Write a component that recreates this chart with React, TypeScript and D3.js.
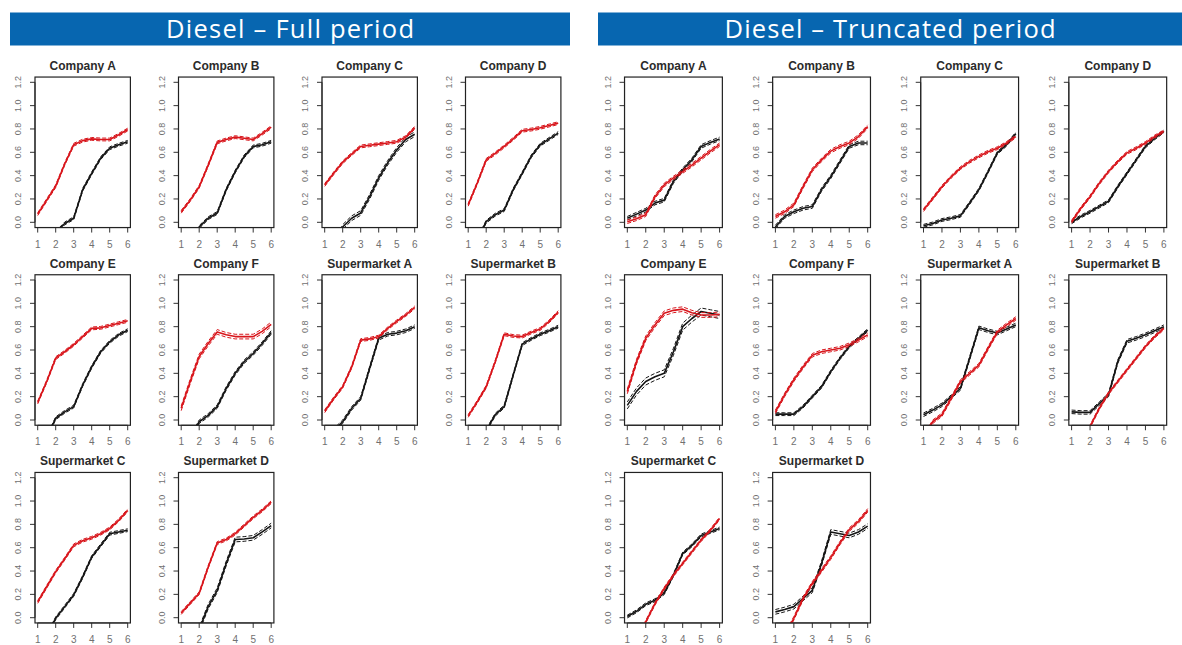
import { useEffect, useRef } from "react"
import * as d3 from "d3"

const xs = [1, 1.5, 2, 2.5, 3, 3.5, 4, 4.5, 5, 5.5, 6]
const yTicks = [0, 0.2, 0.4, 0.6, 0.8, 1.0, 1.2]
const xTicks = [1, 2, 3, 4, 5, 6]

const panelNames = [
    "Company A", "Company B", "Company C", "Company D",
    "Company E", "Company F", "Supermarket A", "Supermarket B",
    "Supermarket C", "Supermarket D",
]

const sideTitles = ["Diesel \u2013 Full period", "Diesel \u2013 Truncated period"]

const fullRed = [
    [0.07, 0.19, 0.31, 0.5, 0.665, 0.7, 0.715, 0.71, 0.71, 0.75, 0.795],
    [0.09, 0.19, 0.305, 0.49, 0.685, 0.71, 0.73, 0.72, 0.71, 0.76, 0.815],
    [0.32, 0.42, 0.515, 0.585, 0.65, 0.66, 0.67, 0.68, 0.69, 0.73, 0.81],
    [0.15, 0.335, 0.535, 0.59, 0.65, 0.715, 0.785, 0.795, 0.81, 0.83, 0.85],
    [0.15, 0.33, 0.53, 0.585, 0.645, 0.715, 0.785, 0.79, 0.81, 0.83, 0.85],
    [0.1, 0.33, 0.545, 0.655, 0.755, 0.73, 0.715, 0.715, 0.715, 0.76, 0.82],
    [0.075, 0.185, 0.285, 0.455, 0.685, 0.695, 0.715, 0.785, 0.845, 0.9, 0.965],
    [0.035, 0.155, 0.285, 0.5, 0.735, 0.72, 0.715, 0.75, 0.78, 0.845, 0.925],
    [0.135, 0.265, 0.395, 0.505, 0.62, 0.66, 0.685, 0.72, 0.765, 0.835, 0.92],
    [0.04, 0.125, 0.21, 0.435, 0.64, 0.67, 0.72, 0.79, 0.86, 0.92, 0.99],
]

const fullBlack = [
    [-0.3, -0.2, -0.09, -0.01, 0.035, 0.28, 0.42, 0.55, 0.635, 0.665, 0.69],
    [-0.3, -0.2, -0.04, 0.035, 0.08, 0.28, 0.435, 0.565, 0.65, 0.665, 0.69],
    [-0.3, -0.2, -0.04, 0.035, 0.08, 0.22, 0.38, 0.51, 0.62, 0.71, 0.755],
    [-0.3, -0.15, 0.005, 0.065, 0.105, 0.28, 0.42, 0.565, 0.665, 0.715, 0.765],
    [-0.3, -0.15, 0.015, 0.07, 0.115, 0.3, 0.455, 0.585, 0.67, 0.73, 0.77],
    [-0.3, -0.15, -0.015, 0.04, 0.115, 0.27, 0.4, 0.5, 0.57, 0.655, 0.75],
    [-0.3, -0.09, -0.015, 0.1, 0.185, 0.445, 0.7, 0.735, 0.745, 0.765, 0.8],
    [-0.35, -0.25, -0.09, 0.045, 0.115, 0.385, 0.65, 0.695, 0.735, 0.765, 0.8],
    [-0.3, -0.15, -0.005, 0.095, 0.195, 0.35, 0.52, 0.62, 0.72, 0.735, 0.75],
    [-0.4, -0.3, -0.1, 0.095, 0.235, 0.465, 0.67, 0.675, 0.685, 0.735, 0.79],
]

const truncRed = [
    [0.005, 0.03, 0.065, 0.22, 0.32, 0.38, 0.435, 0.49, 0.55, 0.61, 0.665],
    [0.05, 0.09, 0.15, 0.305, 0.45, 0.535, 0.61, 0.65, 0.68, 0.735, 0.82],
    [0.105, 0.205, 0.305, 0.39, 0.465, 0.52, 0.565, 0.605, 0.635, 0.68, 0.735],
    [0.005, 0.12, 0.22, 0.335, 0.435, 0.52, 0.595, 0.635, 0.68, 0.735, 0.78],
    [0.245, 0.5, 0.7, 0.815, 0.915, 0.94, 0.95, 0.92, 0.9, 0.9, 0.905],
    [0.07, 0.215, 0.345, 0.455, 0.555, 0.585, 0.6, 0.615, 0.645, 0.685, 0.73],
    [-0.15, -0.015, 0.045, 0.185, 0.33, 0.4, 0.47, 0.615, 0.755, 0.815, 0.87],
    [-0.4, -0.25, -0.055, 0.1, 0.23, 0.33, 0.43, 0.53, 0.63, 0.715, 0.785],
    [-0.4, -0.2, -0.035, 0.12, 0.25, 0.365, 0.465, 0.565, 0.665, 0.75, 0.85],
    [-0.3, -0.15, -0.005, 0.165, 0.295, 0.405, 0.515, 0.64, 0.755, 0.825, 0.92],
]

const truncBlack = [
    [0.035, 0.07, 0.105, 0.165, 0.19, 0.35, 0.45, 0.535, 0.65, 0.685, 0.715],
    [-0.04, 0.05, 0.09, 0.12, 0.135, 0.28, 0.39, 0.52, 0.65, 0.68, 0.68],
    [-0.03, -0.01, 0.02, 0.035, 0.055, 0.165, 0.28, 0.435, 0.595, 0.665, 0.76],
    [0.0, 0.05, 0.09, 0.135, 0.18, 0.305, 0.42, 0.535, 0.65, 0.72, 0.78],
    [0.125, 0.245, 0.33, 0.37, 0.4, 0.585, 0.8, 0.87, 0.93, 0.915, 0.9],
    [0.05, 0.05, 0.05, 0.115, 0.2, 0.285, 0.415, 0.53, 0.63, 0.7, 0.77],
    [0.045, 0.085, 0.13, 0.2, 0.27, 0.53, 0.79, 0.765, 0.745, 0.78, 0.815],
    [0.07, 0.065, 0.065, 0.14, 0.215, 0.5, 0.675, 0.7, 0.73, 0.765, 0.8],
    [0.01, 0.055, 0.115, 0.15, 0.21, 0.365, 0.55, 0.62, 0.705, 0.735, 0.765],
    [0.05, 0.07, 0.095, 0.165, 0.235, 0.465, 0.735, 0.72, 0.705, 0.735, 0.785],
]

// half-width of the dashed bands around each line
const fullRedSpread = [0.012, 0.012, 0.012, 0.012, 0.012, 0.02, 0.012, 0.012, 0.012, 0.012]
const fullBlackSpread = [0.012, 0.012, 0.02, 0.012, 0.012, 0.015, 0.015, 0.012, 0.012, 0.02]
const truncRedSpread = [0.015, 0.015, 0.012, 0.012, 0.02, 0.015, 0.015, 0.012, 0.012, 0.015]
const truncBlackSpread = [0.015, 0.015, 0.012, 0.012, 0.03, 0.012, 0.015, 0.015, 0.012, 0.02]

const sides = [
    { title: sideTitles[0], red: fullRed, black: fullBlack, redSpread: fullRedSpread, blackSpread: fullBlackSpread },
    { title: sideTitles[1], red: truncRed, black: truncBlack, redSpread: truncRedSpread, blackSpread: truncBlackSpread },
]

const W = 1182
const H = 645

// layout of each half
const layout = [
    { barX: 10, barW: 560, x1: 37.7, colStep: 143.5, xw: 90, titleW: 248 },
    { barX: 598, barW: 584, x1: 627.3, colStep: 148.1, xw: 92.3, titleW: 331 },
]
const row0 = 222.3
const rowStep = 197.7
const yH = 140

const RED = "#d8151b"
const BLACK = "#151515"
const TICK_GREY = "#707070"
const FONT = "'Liberation Sans', Arial, sans-serif"

export default function App() {
    const ref = useRef<SVGSVGElement | null>(null)

    useEffect(() => {
        const svg = d3.select(ref.current)
        svg.selectAll("*").remove()

        svg.append("rect").attr("width", W).attr("height", H).attr("fill", "#fff")

        const defs = svg.append("defs")

        sides.forEach((side, s) => {
            const L = layout[s]

            svg.append("rect")
                .attr("x", L.barX)
                .attr("y", 12.5)
                .attr("width", L.barW)
                .attr("height", 33)
                .attr("fill", "#0766b0")

            svg.append("text")
                .attr("x", L.barX + L.barW / 2)
                .attr("y", 38)
                .attr("text-anchor", "middle")
                .attr("fill", "#fff")
                .attr("font-family", "'Open Sans', 'Liberation Sans', sans-serif")
                .attr("font-size", 25.5)
                .attr("textLength", L.titleW)
                .attr("lengthAdjust", "spacing")
                .text(side.title)

            panelNames.forEach((name, i) => {
                const col = i % 4
                const row = Math.floor(i / 4)
                const xa = L.x1 + L.colStep * col
                const y0 = row0 + rowStep * row

                const x = d3.scaleLinear().domain([1, 6]).range([xa, xa + L.xw])
                const y = d3.scaleLinear().domain([0, 1.2]).range([y0, y0 - yH])

                const bx0 = x(0.85)
                const bx1 = x(6.15)
                const by0 = y(1.245)
                const by1 = y(-0.045)

                const g = svg.append("g")
                const clipId = `clip-${s}-${i}`
                defs.append("clipPath").attr("id", clipId)
                    .append("rect")
                    .attr("x", bx0).attr("y", by0)
                    .attr("width", bx1 - bx0).attr("height", by1 - by0)

                // y axis
                const yAxis = g.append("g")
                yAxis.append("line")
                    .attr("x1", bx0).attr("x2", bx0)
                    .attr("y1", y(0)).attr("y2", y(1.2))
                    .attr("stroke", "#333")
                yTicks.forEach(t => {
                    yAxis.append("line")
                        .attr("x1", bx0 - 5).attr("x2", bx0)
                        .attr("y1", y(t)).attr("y2", y(t))
                        .attr("stroke", "#333")
                    yAxis.append("text")
                        .attr("transform", `translate(${bx0 - 14},${y(t)}) rotate(-90)`)
                        .attr("text-anchor", "middle")
                        .attr("font-family", FONT)
                        .attr("font-size", 9)
                        .attr("fill", TICK_GREY)
                        .text(d3.format(".1f")(t))
                })

                // x axis
                const xAxis = g.append("g")
                xAxis.append("line")
                    .attr("x1", x(1)).attr("x2", x(6))
                    .attr("y1", by1).attr("y2", by1)
                    .attr("stroke", "#333")
                xTicks.forEach(t => {
                    xAxis.append("line")
                        .attr("x1", x(t)).attr("x2", x(t))
                        .attr("y1", by1).attr("y2", by1 + 5)
                        .attr("stroke", "#333")
                    xAxis.append("text")
                        .attr("x", x(t))
                        .attr("y", by1 + 20)
                        .attr("text-anchor", "middle")
                        .attr("font-family", FONT)
                        .attr("font-size", 10)
                        .attr("fill", TICK_GREY)
                        .text(t)
                })

                // series
                const plot = g.append("g").attr("clip-path", `url(#${clipId})`)
                const series = [
                    { vals: side.black[i], spread: side.blackSpread[i], color: BLACK },
                    { vals: side.red[i], spread: side.redSpread[i], color: RED },
                ]
                series.forEach(ser => {
                    const pts = xs.map((xv, k) => [xv, ser.vals[k]] as [number, number])
                    const line = d3.line<[number, number]>()
                        .x(d => x(d[0]))
                        .y(d => y(d[1]))
                    ;[-1, 1].forEach(sign => {
                        plot.append("path")
                            .attr("d", line(pts.map(([a, b]) => [a, b + sign * ser.spread] as [number, number])))
                            .attr("fill", "none")
                            .attr("stroke", ser.color)
                            .attr("stroke-width", 1)
                            .attr("stroke-dasharray", "4,2")
                    })
                    plot.append("path")
                        .attr("d", line(pts))
                        .attr("fill", "none")
                        .attr("stroke", ser.color)
                        .attr("stroke-width", 1.6)
                        .attr("stroke-linejoin", "round")
                })

                // box
                g.append("rect")
                    .attr("x", bx0).attr("y", by0)
                    .attr("width", bx1 - bx0).attr("height", by1 - by0)
                    .attr("fill", "none")
                    .attr("stroke", "#222")
                    .attr("stroke-width", 1.2)

                g.append("text")
                    .attr("x", (bx0 + bx1) / 2)
                    .attr("y", by0 - 7)
                    .attr("text-anchor", "middle")
                    .attr("font-family", FONT)
                    .attr("font-weight", "bold")
                    .attr("font-size", 12)
                    .attr("fill", "#2b2b2b")
                    .text(name)
            })
        })
    }, [])

    return (
        <svg
            ref={ref}
            width={W}
            height={H}
            style={{ position: "absolute", left: 0, top: 0 }}
        />
    )
}
